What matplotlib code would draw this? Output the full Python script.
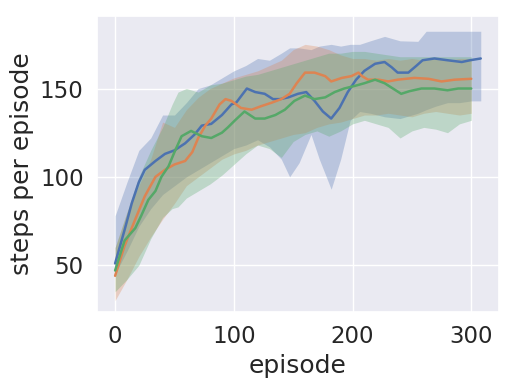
import matplotlib
matplotlib.use("Agg")
import matplotlib.pyplot as plt
import seaborn as sns

sns.set_theme(style="darkgrid", font_scale=1.5)
plt.rcParams['font.family'] = ['DejaVu Sans']

# ---- mean lines (episode, value) ----
blue_ep = [0, 8, 14, 20, 25, 34, 42, 50, 59, 67, 73, 81, 90, 98, 102, 111, 118, 126, 133, 139,
           146, 154, 161, 168, 175, 182, 189, 196, 203, 210, 219, 227, 233, 238, 247, 254, 259,
           269, 280, 292, 299, 308]
blue_val = [51, 70, 85, 97, 104, 109, 113, 115, 119, 124, 129, 130, 135, 141, 142, 150, 148, 147, 144, 144,
            145, 147, 148, 143, 137, 133, 139, 148, 155, 160, 164, 165, 162, 159, 159, 163, 166,
            167, 166, 165, 166, 167]

orange_ep = [0, 8, 17, 25, 34, 42, 50, 59, 65, 70, 76, 81, 88, 93, 98, 106, 115, 123, 132, 140,
             147, 153, 160, 168, 177, 182, 191, 199, 205, 208, 213, 222, 230, 238, 252, 264, 275,
             286, 300]
orange_val = [44, 61, 76, 89, 100, 104, 107, 109, 114, 122, 129, 133, 141, 144, 143, 139, 138, 140, 142, 144,
              147, 153, 159, 159, 157, 154, 156, 157, 159, 157, 155, 155, 154, 155, 156, 155.5, 154,
              155, 155.5]

green_ep = [0, 8, 17, 22, 28, 34, 39, 45, 50, 56, 64, 73, 81, 90, 95, 101, 109, 118, 126, 135,
            143, 151, 160, 168, 177, 185, 193, 202, 210, 219, 227, 234, 241, 248, 258, 269, 280,
            289, 300]
green_val = [47, 64, 71, 78, 87, 92, 100, 106, 114, 123, 126, 123, 122, 125, 128, 132, 137, 133, 133, 135,
             138, 143, 146, 144, 145, 148, 150, 151.5, 153, 155, 153, 150, 147, 148.5, 150, 150, 149,
             150, 150]

# ---- shaded bands (episode, lower, upper) ----
blue_band_ep = [0, 10, 20, 30, 40, 50, 60, 70, 80, 90, 100, 110, 120, 130, 140, 147, 155, 165, 172,
                182, 190, 198, 206, 215, 227, 240, 255, 262, 270, 280, 290, 300, 308]
blue_lo = [45, 58, 72, 82, 90, 95, 100, 104, 108, 112, 116, 118, 121, 117, 110, 100, 108, 124, 110,
           93, 110, 132, 137, 136, 134, 133, 136, 138, 140, 142, 142, 143, 143]
blue_hi = [78, 97, 115, 122, 135, 135, 142, 150, 152, 156, 160, 163, 167, 166, 170, 173, 173, 172, 174,
           175, 174, 175, 175, 177, 179.5, 177, 176.7, 182.4, 182.4, 182.4, 182.4, 182.4, 182.4]

orange_band_ep = [0, 10, 20, 30, 40, 50, 60, 70, 80, 90, 100, 110, 120, 130, 140, 150, 160, 170, 180,
                  190, 200, 210, 220, 230, 240, 250, 260, 270, 280, 290, 300]
orange_lo = [30, 42, 55, 66, 76, 85, 95, 100, 105, 110, 113, 115, 118, 120, 122, 124, 125, 128, 130,
             131, 133, 135, 135, 136, 135, 134, 136, 137, 136, 135, 136]
orange_hi = [60, 80, 95, 110, 131, 128, 138, 145, 150, 153, 156, 158, 160, 163, 166, 172, 175, 174, 172,
             169, 167, 167, 166, 167, 166, 167, 166, 167, 166, 167, 167]

green_band_ep = [0, 10, 20, 30, 40, 48, 53, 60, 70, 80, 90, 100, 110, 120, 130, 140, 150, 160, 170,
                 180, 190, 200, 210, 220, 230, 240, 250, 260, 270, 280, 290, 300]
green_lo = [35, 42, 50, 65, 77, 82, 83, 88, 92, 96, 101, 107, 113, 118, 116, 111, 120, 124, 126,
            123, 126, 130, 132, 130, 128, 122, 126, 128, 127, 125, 130, 132]
green_hi = [60, 80, 100, 115, 128, 141, 148, 150, 148, 152, 153, 155, 157, 158, 160, 162, 164, 166, 168,
            170, 170, 171, 171, 170, 169, 168, 168, 168, 168, 168, 168, 168]

colors = sns.color_palette("deep")

fig = plt.figure(figsize=(5.15, 3.92), dpi=100)
ax = fig.add_axes([0.188, 0.204, 0.781, 0.755])

series = [
    (blue_ep, blue_val, blue_band_ep, blue_lo, blue_hi, colors[0]),
    (orange_ep, orange_val, orange_band_ep, orange_lo, orange_hi, colors[1]),
    (green_ep, green_val, green_band_ep, green_lo, green_hi, colors[2]),
]
for ep, val, bep, lo, hi, c in series:
    ax.fill_between(bep, lo, hi, color=c, alpha=0.3, linewidth=0)
for ep, val, bep, lo, hi, c in series:
    ax.plot(ep, val, color=c, linewidth=1.8)

ax.set_xlim(-15.4, 323.4)
ax.set_ylim(23.5, 191)
ax.set_xticks([0, 100, 200, 300])
ax.set_yticks([50, 100, 150])
ax.set_xlabel("episode")
ax.set_ylabel("steps per episode")

fig.savefig("out.png", dpi=100)
